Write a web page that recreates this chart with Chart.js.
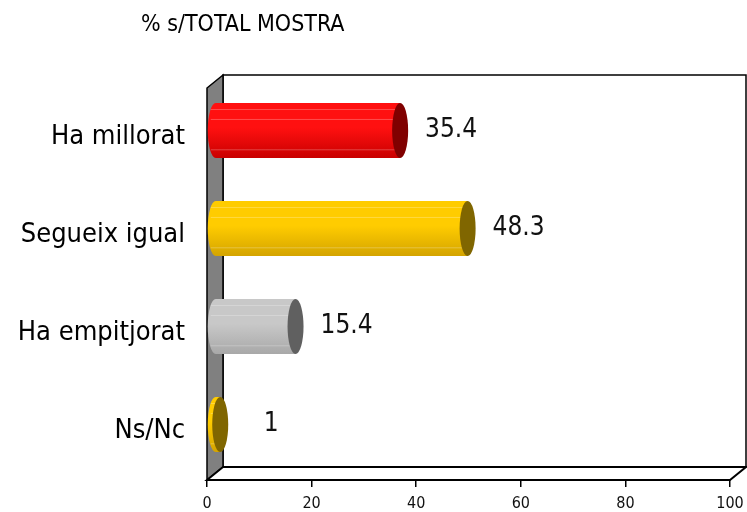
<!DOCTYPE html>
<html>
<head>
<meta charset="utf-8">
<script src="https://cdn.jsdelivr.net/npm/chart.js@4/dist/chart.umd.min.js"></script>
<style>
    body { margin: 0; background: #fff; }
    #wrap { position: relative; width: 747px; height: 512px; }
    #title {
        position: absolute; left: 141px; top: 10px;
        font-family: "DejaVu Sans Condensed", "DejaVu Sans", sans-serif; font-size: 23px; color: #000;
    }
</style>
</head>
<body>
<div id="wrap">
    <div id="title">% s/TOTAL MOSTRA</div>
    <canvas id="chart" width="747" height="512"></canvas>
</div>
<script>
const categories = ['Ha millorat', 'Segueix igual', 'Ha empitjorat', 'Ns/Nc'];
const values = [35.4, 48.3, 15.4, 1];
const valueLabels = ['35.4', '48.3', '15.4', '1'];
const xTicks = [0, 20, 40, 60, 80, 100];

// colors per bar: top of body, bottom of body, end cap
const bodyTop = ['#ff1010', '#ffcc00', '#c8c8c8', '#ffcc00'];
const bodyBottom = ['#c80000', '#d4a400', '#a8a8a8', '#d4a400'];
const capColor = ['#800000', '#806600', '#606060', '#806600'];

const DX = 16, DY = 13; // 3d depth offset

const frame3d = {
    id: 'frame3d',
    beforeDatasetsDraw(chart) {
        const { ctx, chartArea: a } = chart;
        ctx.save();
        ctx.lineWidth = 1.5;
        ctx.strokeStyle = '#000';
        // back wall
        ctx.fillStyle = '#fff';
        ctx.beginPath();
        ctx.rect(a.left + DX, a.top - DY, a.right - a.left, a.bottom - a.top);
        ctx.fill();
        ctx.stroke();
        // left wall
        ctx.fillStyle = '#808080';
        ctx.beginPath();
        ctx.moveTo(a.left, a.top);
        ctx.lineTo(a.left + DX, a.top - DY);
        ctx.lineTo(a.left + DX, a.bottom - DY);
        ctx.lineTo(a.left, a.bottom);
        ctx.closePath();
        ctx.fill();
        ctx.stroke();
        // floor
        ctx.fillStyle = '#fff';
        ctx.lineWidth = 2;
        ctx.beginPath();
        ctx.moveTo(a.left, a.bottom);
        ctx.lineTo(a.left + DX, a.bottom - DY);
        ctx.lineTo(a.right + DX, a.bottom - DY);
        ctx.lineTo(a.right, a.bottom);
        ctx.closePath();
        ctx.fill();
        ctx.stroke();
        ctx.restore();
    },
    afterDatasetsDraw(chart) {
        const { ctx } = chart;
        const meta = chart.getDatasetMeta(0);
        ctx.save();
        meta.data.forEach((bar, i) => {
            const p = bar.getProps(['x', 'y', 'base', 'height'], true);
            const cx0 = p.base + DX / 2;
            const cx1 = p.x + DX / 2;
            const cy = p.y - DY / 2;
            const rx = DX / 2, ry = p.height / 2;

            // cylinder body
            const g = ctx.createLinearGradient(0, cy - ry, 0, cy + ry);
            g.addColorStop(0, bodyTop[i]);
            g.addColorStop(0.45, bodyTop[i]);
            g.addColorStop(1, bodyBottom[i]);
            ctx.fillStyle = g;
            ctx.beginPath();
            ctx.moveTo(cx1, cy - ry);
            ctx.lineTo(cx1, cy + ry);
            ctx.lineTo(cx0, cy + ry);
            ctx.ellipse(cx0, cy, rx, ry, 0, Math.PI / 2, Math.PI * 1.5);
            ctx.closePath();
            ctx.fill();

            // faint highlight stripes
            ctx.strokeStyle = 'rgba(255,255,255,0.25)';
            ctx.lineWidth = 1;
            [0.12, 0.3, 0.85].forEach(f => {
                const yy = cy - ry + f * 2 * ry;
                ctx.beginPath();
                ctx.moveTo(cx0 - rx + 3, yy);
                ctx.lineTo(cx1, yy);
                ctx.stroke();
            });

            // end cap
            ctx.fillStyle = capColor[i];
            ctx.beginPath();
            ctx.ellipse(cx1, cy, rx, ry, 0, 0, Math.PI * 2);
            ctx.fill();

            // value label
            ctx.fillStyle = '#111';
            ctx.font = '26px "DejaVu Sans Condensed", "DejaVu Sans", sans-serif';
            ctx.textAlign = 'center';
            ctx.textBaseline = 'middle';
            ctx.fillText(valueLabels[i], p.x + 59, cy);
        });
        ctx.restore();
    }
};

new Chart(document.getElementById('chart'), {
    type: 'bar',
    data: {
        labels: categories,
        datasets: [{
            data: values,
            backgroundColor: 'rgba(0,0,0,0)',
            borderWidth: 0,
            barPercentage: 0.563,
            categoryPercentage: 1
        }]
    },
    options: {
        indexAxis: 'y',
        responsive: false,
        animation: false,
        devicePixelRatio: 1,
        layout: { padding: { top: 88, right: 17, left: 0, bottom: 0 } },
        plugins: {
            legend: { display: false },
            tooltip: { enabled: false }
        },
        scales: {
            x: {
                min: 0,
                max: 100,
                afterBuildTicks: s => { s.ticks = xTicks.map(v => ({ value: v })); },
                afterFit: s => { s.height = 32; s.paddingLeft = 0; s.paddingRight = 0; },
                grid: { drawOnChartArea: false, drawTicks: true, tickLength: 7, color: '#000', lineWidth: 1.5 },
                border: { display: false },
                ticks: {
                    color: '#111',
                    padding: 7,
                    maxRotation: 0,
                    font: { family: '"DejaVu Sans Condensed", "DejaVu Sans", sans-serif', size: 16 }
                }
            },
            y: {
                afterFit: s => { s.width = 207; },
                grid: { display: false },
                border: { display: false },
                ticks: {
                    color: '#000',
                    padding: 14,
                    font: { family: '"DejaVu Sans Condensed", "DejaVu Sans", sans-serif', size: 27 }
                }
            }
        }
    },
    plugins: [frame3d]
});
</script>
</body>
</html>
